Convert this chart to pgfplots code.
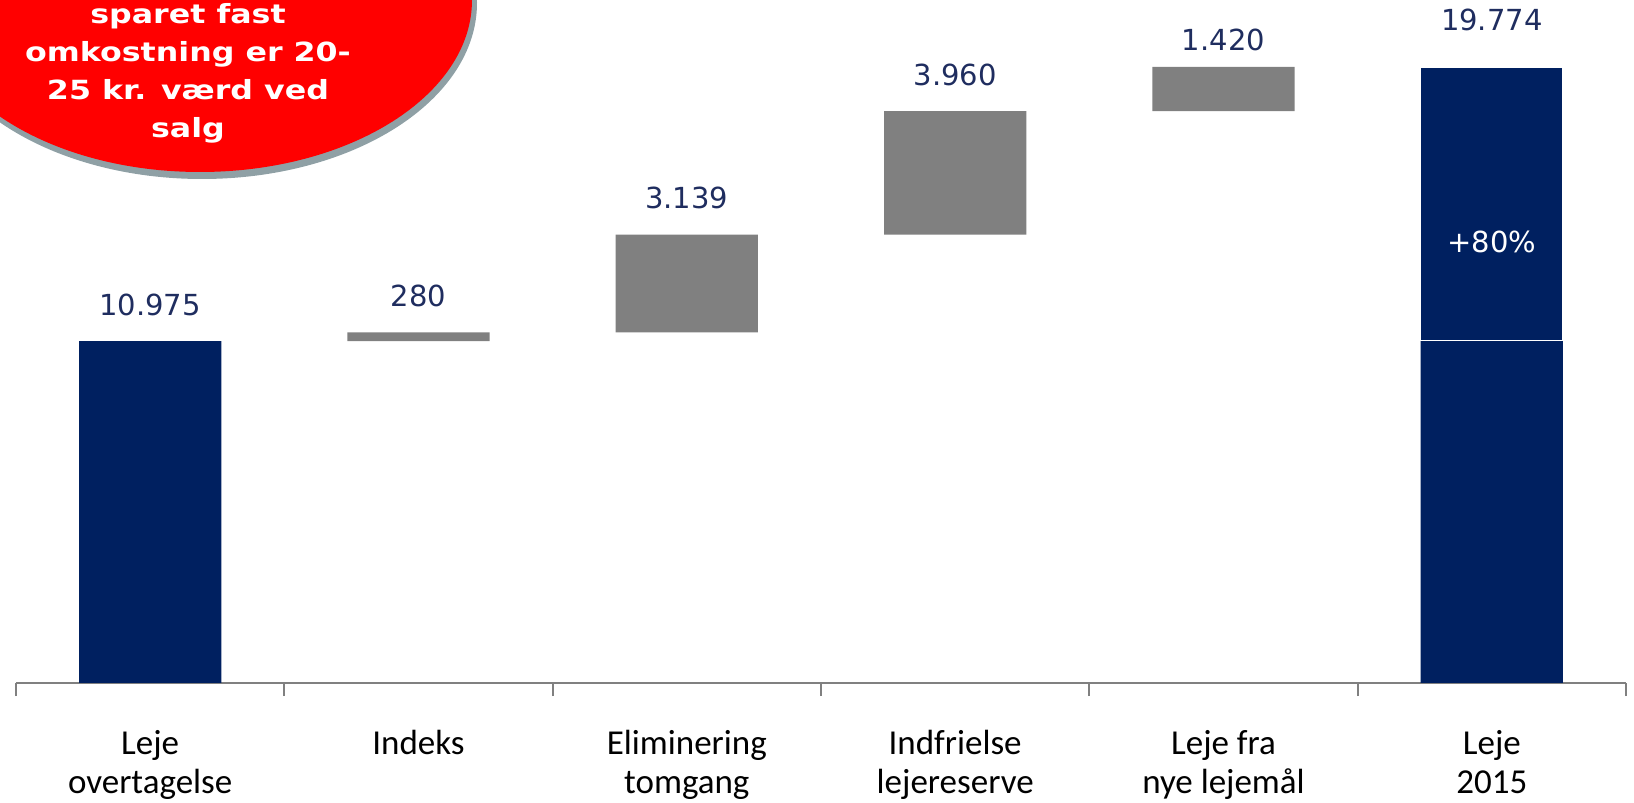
\documentclass[border=0pt]{standalone}
\usepackage{fontspec}
\setmainfont{Carlito}
\newfontfamily\verd{DejaVu Sans}
\newfontfamily\ellfont{DejaVu Sans}[FakeStretch=1.2]
\usepackage{pgfplots}
\pgfplotsset{compat=1.18}
\definecolor{navy}{RGB}{0,32,96}
\definecolor{wfgray}{RGB}{128,128,128}
\definecolor{lblblue}{RGB}{31,45,95}
\definecolor{shadowgray}{RGB}{143,160,165}
\definecolor{callred}{RGB}{255,0,0}
\pgfplotsset{wfbox/.style={at={(8pt,60pt)}, anchor=south west,
  scale only axis, width=805pt, height=341.5pt,
  xmin=-0.5, xmax=5.5, ymin=0, ymax=21925, clip=false},
  vallabel/.style={only marks, mark=none, point meta=explicit symbolic, nodes near coords,
  every node near coord/.append style={font=\verd\fontsize{14.5}{17}\selectfont, text=lblblue, anchor=base, inner sep=0pt, yshift=#1}}}
\begin{document}
\begin{tikzpicture}
\useasboundingbox (0pt,0pt) rectangle (817pt,401.5pt);
\begin{axis}[
  wfbox,
  ybar stacked, bar width=0.53,
  axis x line=bottom, axis y line=none,
  axis line style={-, wfgray, line width=1pt},
  xtick={0,1,2,3,4,5},
  xticklabels={{Leje\\overtagelse},{Indeks},{Eliminering\\tomgang},{Indfrielse\\lejereserve},{Leje fra\\nye lejemål},{Leje\\2015}},
  major tick length=0pt,
  minor xtick={-0.5,0.5,1.5,2.5,3.5,4.5,5.5},
  minor tick length=6.5pt,
  tick align=outside,
  minor tick style={wfgray, line width=1pt},
  xticklabel style={font=\fontsize{17.5}{19.5}\selectfont, align=center, text=black, anchor=north, inner sep=0pt, yshift=-23.5pt},
  ytick=\empty,
]
\addplot[draw=none, fill=none] coordinates {(0,0) (1,10975) (2,11255) (3,14394) (4,18354) (5,0)};
\addplot[fill=navy, draw=none] coordinates {(0,10975) (1,0) (2,0) (3,0) (4,0) (5,10975)};
\addplot[fill=wfgray, draw=none] coordinates {(0,0) (1,280) (2,3139) (3,3960) (4,1420) (5,0)};
\addplot[fill=navy, draw=white, line width=0.75pt] coordinates {(0,0) (1,0) (2,0) (3,0) (4,0) (5,8799)};
\end{axis}
\begin{axis}[wfbox, hide axis]
\addplot[vallabel=13pt] coordinates {(0,10975) [10.975] (1,11255) [280] (2,14394) [3.139] (3,18354) [3.960]};
\addplot[vallabel=8pt] coordinates {(4,19774) [1.420]};
\addplot[vallabel=18pt] coordinates {(5,19774) [19.774]};
\addplot[only marks, mark=none, point meta=explicit symbolic, nodes near coords,
  every node near coord/.append style={font=\verd\fontsize{14.5}{17}\selectfont, text=white, anchor=center, inner sep=0pt}]
  coordinates {(5,14150) [+80\%]};
\end{axis}
\fill[shadowgray] (101pt,400pt) ellipse [x radius=137.5pt, y radius=88pt];
\fill[callred] (100pt,401.5pt) ellipse [x radius=136pt, y radius=86pt];
\begin{scope}[every node/.style={anchor=base, text=white, inner sep=0pt, font=\ellfont\bfseries\fontsize{13.2}{19}\selectfont}]
\node at (94pt,389.5pt) {sparet fast};
\node at (94pt,370.5pt) {omkostning er 20-};
\node at (94pt,351.5pt) {25 kr. værd ved};
\node at (94pt,332.5pt) {salg};
\end{scope}
\end{tikzpicture}
\end{document}
